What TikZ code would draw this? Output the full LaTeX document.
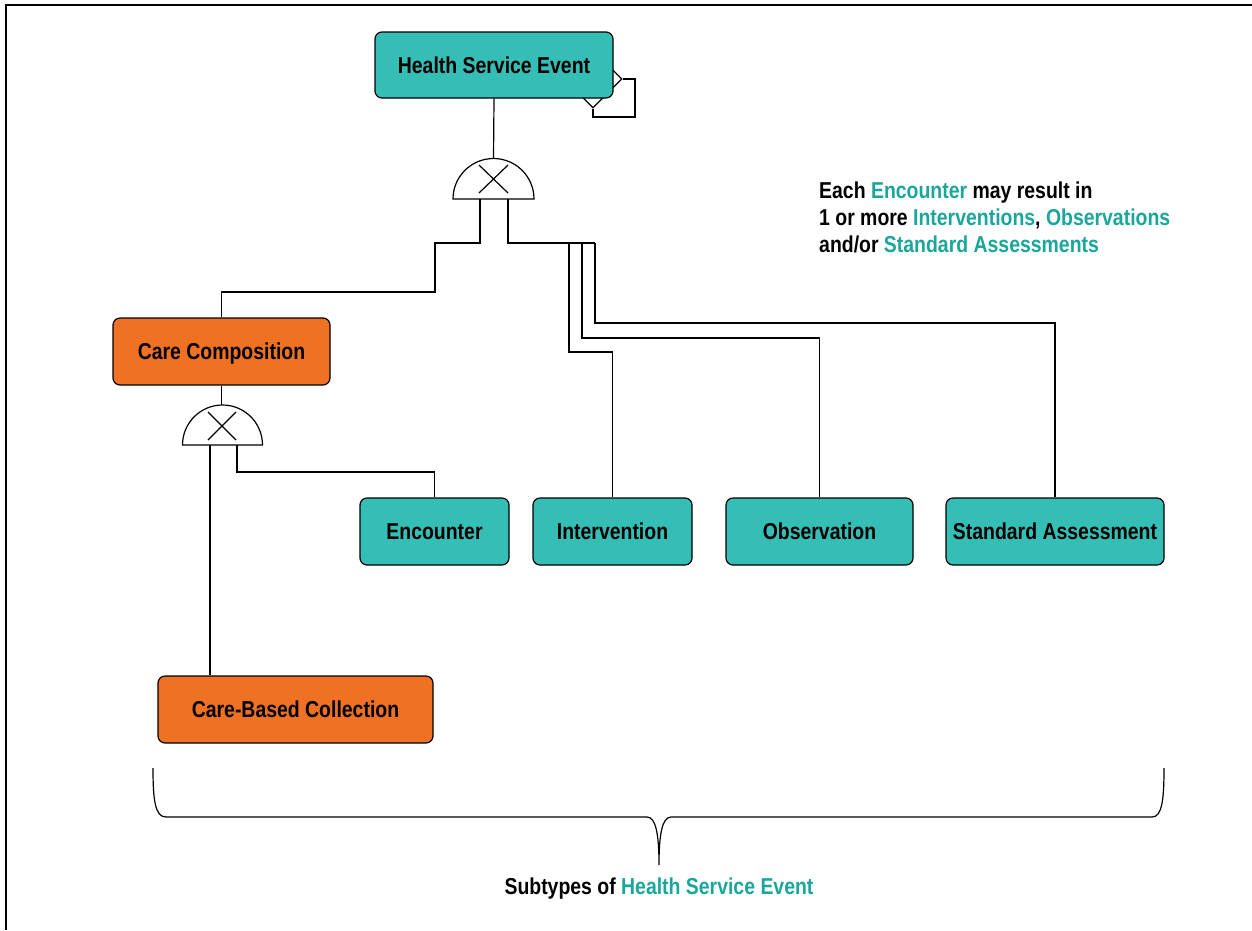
\documentclass[tikz,border=0pt]{standalone}
\usepackage{fontspec}
\setmainfont{Liberation Sans}[FakeStretch=0.845]
\usetikzlibrary{shapes.geometric}
\definecolor{boxteal}{RGB}{53,190,182}
\definecolor{txtteal}{RGB}{26,166,154}
\definecolor{boxorange}{RGB}{239,113,36}
\begin{document}
\begin{tikzpicture}[x=1pt,y=-1pt,
  lbl/.style={font=\fontsize{23}{27}\selectfont\bfseries, inner sep=0pt},
  entity/.style={lbl, draw, line width=1.2pt, rounded corners=7pt, minimum height=67pt, text height=16.5pt, text depth=0pt},
  tealbox/.style={entity, fill=boxteal},
  orangebox/.style={entity, fill=boxorange},
  conn/.style={line width=1.2pt},
  gate/.style={line width=1.2pt, fill=white}]
\useasboundingbox (0,0) rectangle (1252,930);
% frame
\draw[line width=2pt] (6,930) -- (6,5) -- (1252,5);

% self-relationship diamond (behind the box)
\node[draw, diamond, line width=1.2pt, fill=white, minimum width=58pt, minimum height=58pt, inner sep=0pt] (dia) at (593,79) {};
\node[tealbox, minimum width=238pt, minimum height=66pt] (hse) at (494,65) {Health Service Event};
\draw[conn] (dia.east) -| (635,117) -| (dia.south);

% other entities
\node[orangebox, minimum width=217pt] (cc) at (221.5,351.5) {Care Composition};
\node[tealbox, minimum width=149pt] (enc) at (434.5,531.5) {Encounter};
\node[tealbox, minimum width=159pt] (int) at (612.5,531.5) {Intervention};
\node[tealbox, minimum width=187pt] (obs) at (819.5,531.5) {Observation};
\node[tealbox, minimum width=218pt] (sa) at (1055,531.5) {Standard Assessment};
\node[orangebox, minimum width=275pt] (cbc) at (295.5,709.5) {Care-Based Collection};

% gate 1
\coordinate (g1) at (493.5,199);
\coordinate (g1t) at (493.5,158.5);
\coordinate (g1l) at (480,199);
\coordinate (g1r) at (508,199);
\draw[conn] (hse.south) -- (g1t);
\draw[gate] (g1) ++(-40.5,0) arc[start angle=180, end angle=360, radius=40.5] -- cycle;
\draw[conn] (479,165) -- (508,193) (508,165) -- (479,193);
\draw[conn] (g1l) -- (480,243) -- (435,243) -- (435,292) -| (cc.north);
\draw[conn] (g1r) -- (508,243) -- (595,243);
\draw[conn] (569,243) -- (569,352) -| (int.north);
\draw[conn] (582,243) -- (582,338) -| (obs.north);
\draw[conn] (595,243) -- (595,323) -| (sa.north);

% gate 2
\coordinate (g2) at (222.5,445);
\coordinate (g2t) at (222.5,405);
\coordinate (g2l) at (210,445);
\coordinate (g2r) at (237,445);
\draw[conn] (cc.south) -- (cc.south |- g2t);
\draw[gate] (g2) ++(-40,0) arc[start angle=180, end angle=360, radius=40] -- cycle;
\draw[conn] (208,412) -- (236,440) (236,412) -- (208,440);
\draw[conn] (g2l) -- (g2l |- cbc.north);
\draw[conn] (g2r) -- (237,472) -| (enc.north);

% note
\node[lbl, anchor=base west] (note1) at (819,198) {Each \textcolor{txtteal}{Encounter} may result in};
\node[lbl, anchor=base west] (note2) at (819,225) {1 or more \textcolor{txtteal}{Interventions}, \textcolor{txtteal}{Observations}};
\node[lbl, anchor=base west] (note3) at (819,252) {and/or \textcolor{txtteal}{Standard Assessments}};

% brace
\draw[conn] (153,768) .. controls (153,800) and (155,817) .. (166,817) -- (647,817)
  .. controls (656,817) and (659,835) .. (659,865)
  .. controls (659,835) and (662,817) .. (671,817) -- (1152,817)
  .. controls (1162,817) and (1164,800) .. (1164,768);
\node[lbl] (cap) at (659,889) {Subtypes of \textcolor{txtteal}{Health Service Event}};
\end{tikzpicture}
\end{document}
